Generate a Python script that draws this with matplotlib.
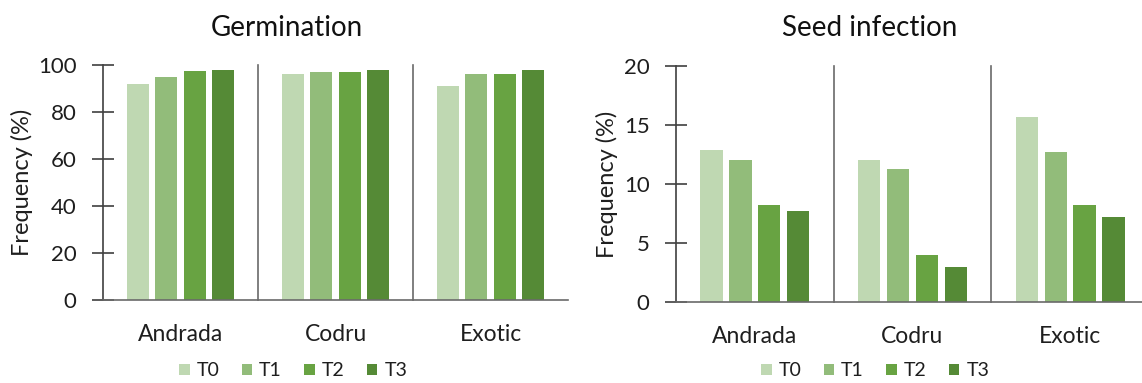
import matplotlib
matplotlib.use("Agg")
import matplotlib.pyplot as plt
import numpy as np

plt.rcParams['font.family'] = ['Lato', 'DejaVu Sans']

cultivars = ["Andrada", "Codru", "Exotic"]
treatments = ["T0", "T1", "T2", "T3"]
colors = ["#bfd8b2", "#92bc7a", "#68a342", "#558a36"]

germination = {
    "T0": [92, 96, 91],
    "T1": [95, 97, 96],
    "T2": [97.6, 97.2, 96.3],
    "T3": [98, 98, 98],
}
infection = {
    "T0": [12.9, 12.0, 15.7],
    "T1": [12.0, 11.3, 12.7],
    "T2": [8.2, 4.0, 8.2],
    "T3": [7.7, 3.0, 7.2],
}

W, H = 1142, 383
fig = plt.figure(figsize=(W / 100, H / 100), dpi=100)
TXT = '#1e1e1e'


def px_axes(x0, x1, ytop, ybot):
    return fig.add_axes([x0 / W, 1 - ybot / H, (x1 - x0) / W, (ybot - ytop) / H])


def draw_panel(ax, x0, x1, data, ymax, step, title, title_x, ylabel_x, legend_x):
    x = np.arange(len(cultivars))
    offsets = np.array([-1.5, -0.5, 0.5, 1.5]) * 0.183
    handles = []
    for i, t in enumerate(treatments):
        b = ax.bar(x + offsets[i], data[t], width=0.142, color=colors[i],
                   label=t, zorder=2)
        handles.append(b)
    ax.set_xlim(-0.5, len(cultivars) - 0.5)
    ax.set_ylim(0, ymax)
    ax.set_yticks(np.arange(0, ymax + step / 2, step))
    ax.tick_params(axis='y', direction='inout', length=16, width=1.2,
                   color='#404040', labelsize=16, labelcolor=TXT, pad=11)
    ax.set_xticks(x)
    ax.set_xticklabels(cultivars)
    ax.tick_params(axis='x', length=0, labelsize=16.5, labelcolor=TXT, pad=17)
    for s in ("top", "right"):
        ax.spines[s].set_visible(False)
    ax.spines["left"].set_color('#404040')
    ax.spines["left"].set_linewidth(1.2)
    ax.spines["bottom"].set_color('#6a6a6a')
    ax.spines["bottom"].set_linewidth(1.2)
    for sep in np.arange(0.5, len(cultivars) - 0.5, 1.0):
        ax.plot([sep, sep], [0, ymax], color='#6a6a6a', lw=1.2, zorder=1,
                clip_on=False)
    ax.set_ylabel("Frequency (%)", fontsize=17, color=TXT)
    ax.yaxis.set_label_coords((ylabel_x - x0) / (x1 - x0), 0.5)
    fig.text(title_x / W, 1 - 36 / H, title, fontsize=20, color='#111111',
             ha='center', va='baseline')
    fig.legend(handles=handles, labels=treatments, loc='center',
               bbox_to_anchor=(legend_x / W, 1 - 371 / H), ncol=4, frameon=False,
               fontsize=14, handlelength=0.55, handleheight=0.55,
               handletextpad=0.35, columnspacing=1.15, labelcolor=TXT)


ax1 = px_axes(103, 568, 65, 300)
draw_panel(ax1, 103, 568, germination, 100, 20, "Germination", 287, 33, 293)

ax2 = px_axes(676, 1149, 66, 302)
draw_panel(ax2, 676, 1149, infection, 20, 5, "Seed infection", 870, 618, 875)

fig.savefig("out.png", dpi=100)
